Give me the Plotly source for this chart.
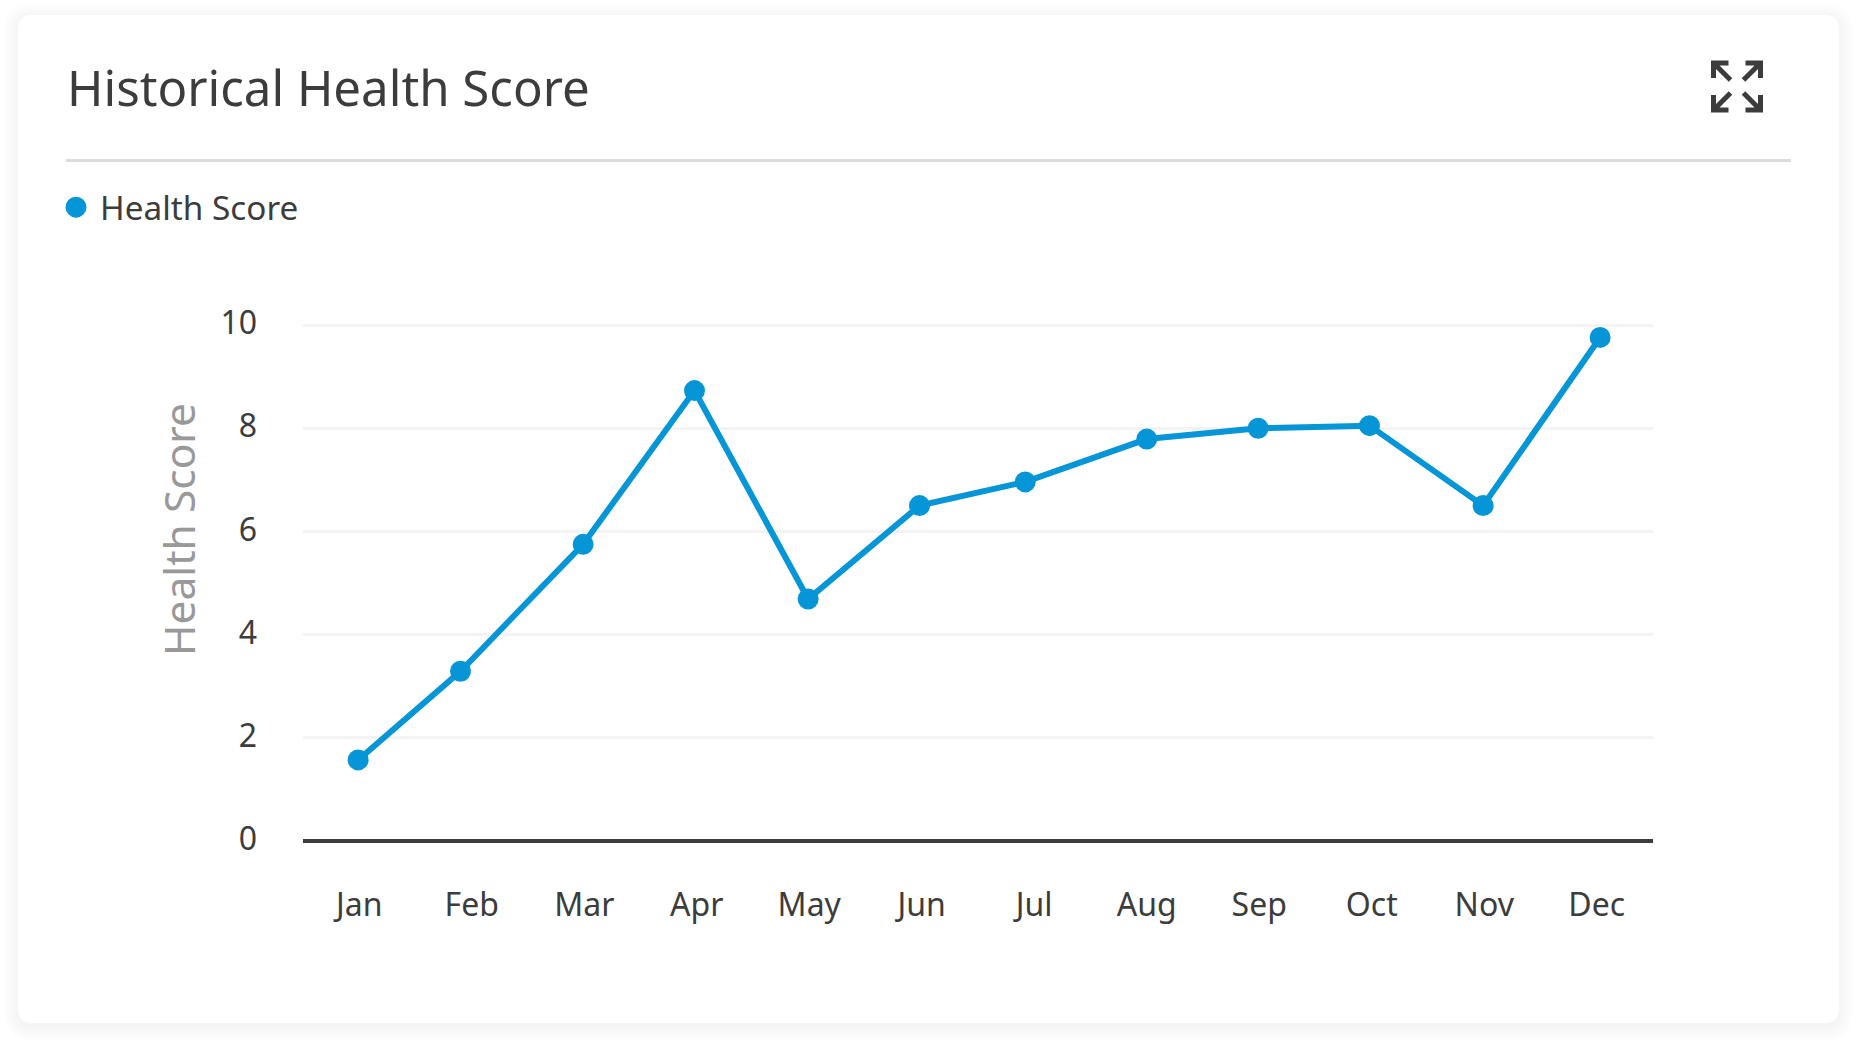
import plotly.graph_objects as go

W, H = 1857, 1044

months = ["Jan", "Feb", "Mar", "Apr", "May", "Jun", "Jul", "Aug", "Sep", "Oct", "Nov", "Dec"]
month_ticks = [0, 1, 2, 3, 4, 5, 6, 7, 8, 9, 10, 11]
# the points sit a little off their month labels in the original
month_pos = [-0.01, 0.9, 1.99, 2.98, 3.99, 4.98, 5.92, 7.0, 7.99, 8.98, 9.99, 11.03]
health_score = [1.57, 3.29, 5.75, 8.73, 4.69, 6.5, 6.96, 7.79, 8.0, 8.05, 6.5, 9.76]
score_ticks = [0, 2, 4, 6, 8, 10]

BLUE = "#0696d7"
DARK = "#3c3c3c"
FONT = "Noto Sans"


def px(x):
    return x / W


def py(y):
    return 1 - y / H


def rounded_rect(x0, y0, x1, y1, r):
    return (
        f"M {px(x0 + r)} {py(y0)} L {px(x1 - r)} {py(y0)} Q {px(x1)} {py(y0)} {px(x1)} {py(y0 + r)} "
        f"L {px(x1)} {py(y1 - r)} Q {px(x1)} {py(y1)} {px(x1 - r)} {py(y1)} "
        f"L {px(x0 + r)} {py(y1)} Q {px(x0)} {py(y1)} {px(x0)} {py(y1 - r)} "
        f"L {px(x0)} {py(y0 + r)} Q {px(x0)} {py(y0)} {px(x0 + r)} {py(y0)} Z"
    )


def arrow(cx, cy, sx, sy):
    """one corner arrow of the expand icon, sx/sy pick the corner"""
    tip = (cx + sx * 23.5, cy + sy * 23.5)
    a = (tip[0] - sx * 15, tip[1])
    b = (tip[0], tip[1] - sy * 15)
    tail = (tip[0] - sx * 17, tip[1] - sy * 17)
    return (
        f"M {px(a[0])} {py(a[1])} L {px(tip[0])} {py(tip[1])} L {px(b[0])} {py(b[1])} "
        f"M {px(tip[0])} {py(tip[1])} L {px(tail[0])} {py(tail[1])}"
    )


shapes = []
# card shadow
for grow in [14, 11, 8, 5, 2]:
    shapes.append(dict(
        type="path", xref="paper", yref="paper", layer="below",
        path=rounded_rect(18 - grow, 15 - grow + 3, 1839 + grow, 1023 + grow + 3, 14 + grow),
        fillcolor="rgba(60,80,110,0.012)", line=dict(width=0),
    ))
shapes.append(dict(
    type="path", xref="paper", yref="paper", layer="below",
    path=rounded_rect(18, 15, 1839, 1023, 14),
    fillcolor="white", line=dict(width=0),
))
# header divider
shapes.append(dict(
    type="line", xref="paper", yref="paper", layer="below",
    x0=px(66), x1=px(1791), y0=py(160.5), y1=py(160.5),
    line=dict(color="#dcdcdc", width=3),
))
# expand icon
for sx in [-1, 1]:
    for sy in [-1, 1]:
        shapes.append(dict(
            type="path", xref="paper", yref="paper",
            path=arrow(1737, 86.5, sx, sy),
            line=dict(color=DARK, width=5),
        ))

fig = go.Figure()
fig.add_trace(go.Scatter(
    x=month_pos, y=health_score, mode="lines",
    line=dict(color=BLUE, width=6), showlegend=False, hoverinfo="skip",
))
fig.add_trace(go.Scatter(
    x=month_pos, y=health_score, mode="markers", name="Health Score",
    marker=dict(color=BLUE, size=16, line=dict(color=BLUE, width=5)),
))

fig.update_layout(
    width=W,
    height=H,
    margin=dict(l=0, r=0, t=0, b=0),
    paper_bgcolor="white",
    plot_bgcolor="rgba(0,0,0,0)",
    font=dict(family=FONT, color=DARK, size=32),
    shapes=shapes,
    showlegend=True,
    legend=dict(
        x=px(52), y=py(207.5), xanchor="left", yanchor="middle", itemwidth=38,
        bgcolor="rgba(0,0,0,0)", font=dict(size=33.3, color=DARK),
    ),
    annotations=[
        dict(
            text="Historical Health Score", xref="paper", yref="paper",
            x=px(65), y=py(86), xanchor="left", yanchor="middle", showarrow=False,
            font=dict(size=49.2, color=DARK),
        ),
        # axis title sits above the plot centre in the original, so it is placed by hand
        dict(
            text="Health Score", xref="paper", yref="paper", textangle=-90,
            x=px(178), y=py(530), xanchor="center", yanchor="middle", showarrow=False,
            font=dict(size=42.5, color="#999999"),
        ),
    ],
    xaxis=dict(
        domain=[px(303), px(1653)],
        range=[-0.5, 11.5],
        automargin=False,
        tickmode="array", tickvals=month_ticks, ticktext=months,
        showgrid=False, zeroline=False, showline=False,
        ticks="", ticklabelstandoff=40,
    ),
    yaxis=dict(
        # range runs a hair past 0 and 10 so the end gridlines are not clipped
        domain=[py(843), py(323)],
        range=[-0.04, 10.04],
        automargin=False,
        tickmode="array", tickvals=score_ticks,
        showgrid=True, gridcolor="#f3f3f3", gridwidth=3,
        zeroline=True, zerolinecolor=DARK, zerolinewidth=3.5, showline=False,
        ticks="", ticklabelstandoff=45, ticklabelshift=-2,
    ),
)

fig.write_html("out.html", config={"displayModeBar": False},
               post_script="document.body.style.margin='0';")
